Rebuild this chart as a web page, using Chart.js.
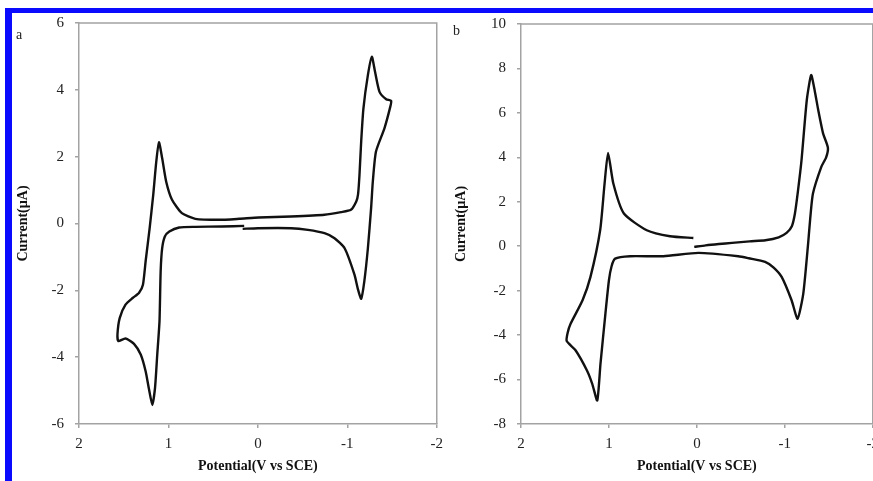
<!DOCTYPE html>
<html>
<head>
<meta charset="utf-8">
<script src="https://cdn.jsdelivr.net/npm/chart.js@4"></script>
<style>
  html, body { margin: 0; padding: 0; background: #fff; overflow: hidden; }
  body { width: 873px; height: 481px; position: relative; }
  .frame { position: absolute; left: 5px; top: 8px; right: 0; bottom: 0;
           border-top: 5px solid #0a0aff; border-left: 7px solid #0a0aff; }
  .panel { position: absolute; top: 0; height: 481px; }
  .tag { position: absolute; font-family: "Liberation Serif", serif; font-size: 14px; color: #222; }
</style>
</head>
<body>
<div class="panel" style="left:0;width:450px"><canvas id="cvA"></canvas></div>
<div class="panel" style="left:440px;width:446px"><canvas id="cvB"></canvas></div>
<div class="frame"></div>
<div class="tag" style="left:16px;top:27px">a</div>
<div class="tag" style="left:453px;top:23px">b</div>
<script>
// potential (V vs SCE) and current (µA) along each scan
const aPotential = [0.153, 0.4, 0.7, 0.88, 0.99, 1.04, 1.07, 1.087, 1.1, 1.125, 1.15, 1.18, 1.22, 1.255, 1.31, 1.385, 1.48, 1.56, 1.57, 1.545, 1.48, 1.40, 1.33, 1.285, 1.255, 1.21, 1.17, 1.136, 1.106, 1.07, 1.025, 0.96, 0.85, 0.70, 0.435, 0.21, -0.01, -0.37, -0.745, -0.93, -1.04, -1.10, -1.12, -1.136, -1.155, -1.18, -1.23, -1.274, -1.31, -1.36, -1.435, -1.49, -1.48, -1.415, -1.32, -1.285, -1.266, -1.23, -1.19, -1.155, -1.12, -1.08, -0.97, -0.857, -0.745, -0.56, -0.37, 0, 0.17];
const aCurrent = [-0.07, -0.09, -0.1, -0.12, -0.24, -0.39, -0.74, -1.43, -2.93, -3.92, -4.92, -5.43, -4.92, -4.42, -3.92, -3.6, -3.44, -3.52, -3.32, -2.83, -2.43, -2.23, -2.08, -1.83, -1.13, -0.14, 0.86, 1.85, 2.43, 1.95, 1.25, 0.71, 0.31, 0.14, 0.11, 0.14, 0.18, 0.21, 0.26, 0.34, 0.41, 0.66, 0.87, 1.45, 2.45, 3.44, 4.44, 4.99, 4.54, 3.94, 3.72, 3.67, 3.49, 2.85, 2.15, 1.25, 0.46, -0.74, -1.73, -2.25, -1.98, -1.53, -0.74, -0.44, -0.29, -0.19, -0.14, -0.14, -0.16];

const bPotential = [0.03, -0.1, -0.25, -0.4, -0.6, -0.78, -0.93, -1.02, -1.08, -1.115, -1.15, -1.19, -1.25, -1.30, -1.34, -1.38, -1.435, -1.49, -1.47, -1.415, -1.32, -1.29, -1.265, -1.21, -1.145, -1.077, -0.964, -0.87, -0.776, -0.59, -0.47, -0.02, 0.38, 0.76, 0.93, 0.97, 1.0, 1.04, 1.096, 1.133, 1.19, 1.25, 1.38, 1.48, 1.47, 1.435, 1.30, 1.21, 1.10, 1.05, 1.01, 0.95, 0.83, 0.57, 0.305, 0.04];
const bCurrent = [-0.03, 0.04, 0.1, 0.15, 0.22, 0.27, 0.4, 0.6, 0.9, 1.47, 2.5, 3.87, 6.58, 7.7, 7.0, 6.13, 5.08, 4.44, 4.0, 3.57, 2.37, 1.3, 0.12, -2.13, -3.26, -2.43, -1.38, -0.95, -0.7, -0.54, -0.45, -0.3, -0.45, -0.45, -0.56, -0.9, -1.53, -3.03, -5.28, -6.94, -6.19, -5.59, -4.68, -4.27, -3.9, -3.48, -2.43, -1.38, 0.72, 2.8, 4.2, 2.82, 1.47, 0.72, 0.45, 0.37];

const xTicks = [2, 1, 0, -1, -2];
const aYRange = [-6, 6];
const bYRange = [-8, 10];

const axisGray = '#a3a3a3';
const serif = '"Liberation Serif", "Times New Roman", serif';

// gray box round the plot area (top and right sides)
const boxPlugin = {
  id: 'box',
  afterDraw(chart) {
    const { ctx, chartArea: c } = chart;
    ctx.save();
    ctx.strokeStyle = axisGray;
    ctx.lineWidth = 1.5;
    ctx.beginPath();
    ctx.moveTo(c.left, c.top);
    ctx.lineTo(c.right, c.top);
    ctx.lineTo(c.right, c.bottom);
    ctx.stroke();
    ctx.restore();
  }
};

function makeChart(id, xs, ys, yRange, opt) {
  const pts = xs.map((v, i) => ({ x: v, y: ys[i] }));
  return new Chart(document.getElementById(id), {
    type: 'scatter',
    data: {
      datasets: [{
        data: pts,
        showLine: true,
        borderColor: '#111',
        borderWidth: 2.4,
        pointRadius: 0,
        tension: 0.2
      }]
    },
    options: {
      responsive: true,
      maintainAspectRatio: false,
      animation: false,
      layout: { padding: { top: opt.top, right: opt.right, left: 0, bottom: 0 } },
      plugins: { legend: { display: false }, tooltip: { enabled: false } },
      scales: {
        x: {
          type: 'linear',
          reverse: true,
          min: xTicks[xTicks.length - 1],
          max: xTicks[0],
          afterBuildTicks: s => { s.ticks = xTicks.map(v => ({ value: v })); },
          afterFit: s => { s.height = 57; },
          grid: { drawOnChartArea: false, drawTicks: true, tickLength: 4, color: axisGray, lineWidth: 1.5 },
          border: { color: axisGray, width: 1.5 },
          ticks: { color: '#222', padding: 7, font: { family: serif, size: 15 }, maxRotation: 0 },
          title: {
            display: true,
            text: 'Potential(V vs SCE)',
            color: '#111',
            font: { family: serif, size: 14, weight: 'bold' },
            padding: { top: 2, bottom: 6 }
          }
        },
        y: {
          min: yRange[0],
          max: yRange[1],
          ticks: { stepSize: 2, color: '#222', padding: 11, font: { family: serif, size: 15 } },
          afterFit: s => { s.width = opt.yWidth; },
          grid: { drawOnChartArea: false, drawTicks: true, tickLength: 4, color: axisGray, lineWidth: 1.5 },
          border: { color: axisGray, width: 1.5 },
          title: {
            display: true,
            text: 'Current(µA)',
            color: '#111',
            font: { family: serif, size: 14, weight: 'bold' },
            padding: { top: opt.titleGap, bottom: 0 }
          }
        }
      }
    },
    plugins: [boxPlugin]
  });
}

makeChart('cvA', aPotential, aCurrent, aYRange, { top: 23, right: 8, yWidth: 79, titleGap: 15 });
makeChart('cvB', bPotential, bCurrent, bYRange, { top: 24, right: 7, yWidth: 81, titleGap: 13 });
</script>
</body>
</html>
